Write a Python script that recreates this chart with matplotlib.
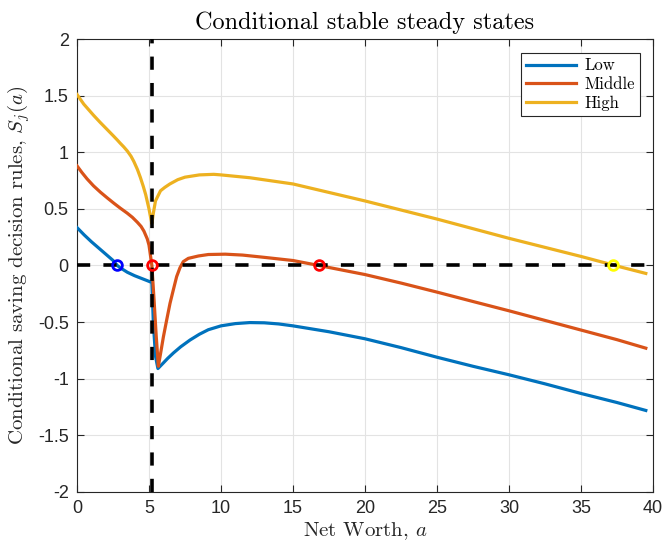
import matplotlib
matplotlib.use("Agg")
import matplotlib.pyplot as plt

plt.rcParams['axes.unicode_minus'] = False
plt.rcParams['mathtext.fontset'] = 'cm'
plt.rcParams['lines.scale_dashes'] = False

# ---- data ----
low_x = [0, 0.5, 1, 1.5, 2, 2.5, 2.8, 3, 3.5, 4, 4.5, 5, 5.2, 5.3, 5.45, 5.62, 6.0, 6.3, 6.7, 7.2,
         7.85, 8.5, 9.12, 10, 11, 12, 13, 14, 15, 17.5, 20, 22.5, 25, 27.5, 30, 32.5, 35, 37.5, 39.5]
low_y = [0.335, 0.27, 0.21, 0.155, 0.1, 0.045, 0.0, -0.02, -0.06, -0.09, -0.115, -0.14, -0.15, -0.5,
         -0.8, -0.91, -0.86, -0.82, -0.772, -0.718, -0.658, -0.607, -0.567, -0.533, -0.513, -0.504,
         -0.506, -0.516, -0.533, -0.585, -0.647, -0.725, -0.81, -0.89, -0.965, -1.045, -1.13, -1.21, -1.28]

mid_x = [0, 0.35, 0.7, 1.15, 1.63, 2.1, 2.56, 3.0, 3.49, 3.85, 4.19, 4.45, 4.65, 4.88, 5.0, 5.07,
         5.2, 5.35, 5.5, 5.65, 5.8, 6.0, 6.23, 6.46, 6.7, 6.92, 7.15, 7.38, 7.73, 8.43, 9.12, 10.3,
         11.5, 13, 15, 16.8, 20, 22.5, 25, 27.5, 30, 32.5, 35, 37.5, 39.5]
mid_y = [0.88, 0.82, 0.765, 0.703, 0.647, 0.597, 0.55, 0.507, 0.462, 0.425, 0.382, 0.345, 0.303,
         0.235, 0.18, 0.118, 0.0, -0.3, -0.62, -0.89, -0.78, -0.63, -0.48, -0.334, -0.21, -0.098,
         -0.02, 0.034, 0.063, 0.084, 0.097, 0.1, 0.092, 0.072, 0.044, 0.0, -0.08, -0.155, -0.235,
         -0.318, -0.40, -0.485, -0.57, -0.655, -0.73]

high_x = [0, 0.47, 1.16, 1.6, 2.1, 2.5, 2.8, 3.0, 3.25, 3.5, 3.75, 3.95, 4.2, 4.4, 4.6, 4.77, 5.0,
          5.12, 5.2, 5.3, 5.45, 5.8, 6.1, 6.45, 7, 7.5, 8.5, 9.5, 10, 12, 15, 17.5, 20, 22.5, 25,
          27.5, 30, 32.5, 35, 37.5, 39.5]
high_y = [1.51, 1.425, 1.325, 1.265, 1.2, 1.148, 1.108, 1.08, 1.047, 1.01, 0.965, 0.918, 0.847,
          0.778, 0.7, 0.626, 0.5, 0.42, 0.37, 0.46, 0.57, 0.66, 0.69, 0.72, 0.758, 0.78, 0.80,
          0.805, 0.80, 0.775, 0.72, 0.645, 0.57, 0.49, 0.41, 0.325, 0.24, 0.16, 0.08, -0.005, -0.07]

steady_low = [2.8]
steady_mid = [5.2, 16.8]
steady_high = [37.25]
threshold_x = 5.2
zero_line_x = [0, 39.5]

series_names = ['Low', 'Middle', 'High']
xticks = [0, 5, 10, 15, 20, 25, 30, 35, 40]
yticks = [-2, -1.5, -1, -0.5, 0, 0.5, 1, 1.5, 2]
ytick_labels = ['-2', '-1.5', '-1', '-0.5', '0', '0.5', '1', '1.5', '2']

# ---- plot ----
fig = plt.figure(figsize=(6.66, 5.44), dpi=100)
ax = fig.add_axes([0.1156, 0.0956, 0.8649, 0.8327])

c_low, c_mid, c_high = '#0072BD', '#D95319', '#EDB120'
lw = 2.3
ax.plot(low_x, low_y, color=c_low, lw=lw, label=series_names[0], zorder=3, solid_joinstyle='round')
ax.plot(mid_x, mid_y, color=c_mid, lw=lw, label=series_names[1], zorder=3, solid_joinstyle='round')
ax.plot(high_x, high_y, color=c_high, lw=lw, label=series_names[2], zorder=3, solid_joinstyle='round')

ax.plot(zero_line_x, [0, 0], color='black', lw=2.6, dashes=(9.5, 9.5), zorder=4)
ax.axvline(threshold_x, color='black', lw=2.6, dashes=(9.5, 9.5), zorder=4)

ms = 7
ax.plot(steady_low, [0] * len(steady_low), 'o', mfc='none', mec='#0000FF', mew=2, ms=ms, zorder=5)
ax.plot(steady_mid, [0] * len(steady_mid), 'o', mfc='none', mec='#FF0000', mew=2, ms=ms, zorder=5)
ax.plot(steady_high, [0] * len(steady_high), 'o', mfc='none', mec='#FFFF00', mew=2, ms=ms, zorder=5)

ax.set_xlim(0, 40)
ax.set_ylim(-2, 2)
ax.set_xticks(xticks)
ax.set_yticks(yticks)
ax.set_yticklabels(ytick_labels)
ax.grid(True, color='#e3e3e3', lw=0.8)
ax.set_axisbelow(True)
ax.tick_params(direction='in', top=True, right=True, length=5, width=0.8,
               labelsize=13, colors='#262626', pad=6)
for lab in ax.get_xticklabels() + ax.get_yticklabels():
    lab.set_family('Liberation Sans')
for sp in ax.spines.values():
    sp.set_color('#262626')
    sp.set_linewidth(0.8)

ax.set_title('Conditional stable steady states', fontsize=17.5, family='cmr10', pad=7)
ax.set_xlabel('Net Worth, $a$', fontsize=15, family='cmr10', color='#262626', labelpad=2)
ax.set_ylabel('Conditional saving decision rules, $S_j(a)$', fontsize=15, family='cmr10',
              color='#262626', labelpad=4)

leg = ax.legend(loc='upper right', bbox_to_anchor=(0.977, 0.969), prop={'family': 'cmr10', 'size': 12},
                fancybox=False, framealpha=1, edgecolor='#262626', handlelength=3.0,
                borderpad=0.3, labelspacing=0.2, handletextpad=0.5, borderaxespad=0)
leg.get_frame().set_linewidth(0.8)

fig.savefig('out.png', dpi=100)
